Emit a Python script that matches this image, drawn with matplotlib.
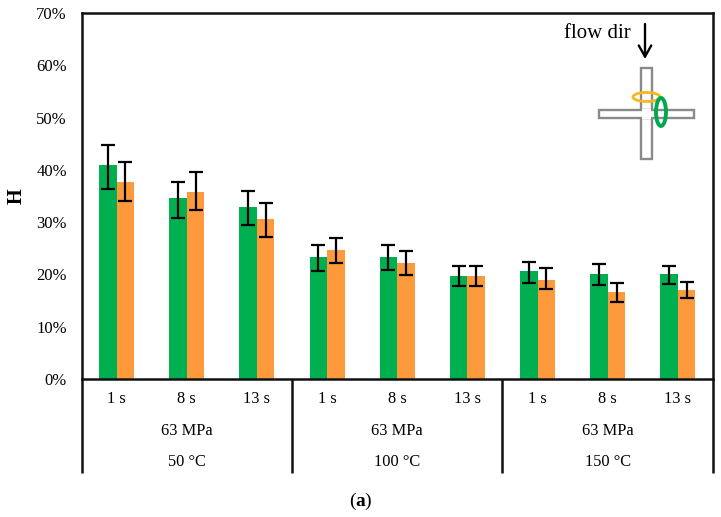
import matplotlib
matplotlib.use("Agg")
import matplotlib.pyplot as plt
from matplotlib.patches import Ellipse, Rectangle

times = ["1 s", "8 s", "13 s"] * 3
pressures = ["63 MPa", "63 MPa", "63 MPa"]
temps = ["50 °C", "100 °C", "150 °C"]
green_vals = [41.0, 34.6, 32.9, 23.3, 23.3, 19.7, 20.6, 20.1, 20.1]
orange_vals = [37.7, 35.8, 30.6, 24.6, 22.2, 19.7, 18.9, 16.6, 17.0]
green_center = [40.5, 34.25, 32.7, 23.2, 23.3, 19.7, 20.4, 20.0, 19.9]
orange_center = [37.75, 35.95, 30.35, 24.5, 22.1, 19.7, 19.2, 16.6, 17.0]
green_err = [4.2, 3.45, 3.3, 2.45, 2.4, 2.0, 2.0, 2.0, 1.8]
orange_err = [3.75, 3.65, 3.25, 2.4, 2.3, 2.0, 2.0, 1.8, 1.6]
yticks = [0, 10, 20, 30, 40, 50, 60, 70]

W, H = 721, 517
plt.rcParams["font.family"] = ["Liberation Serif", "DejaVu Serif"]
fig = plt.figure(figsize=(W / 100, H / 100), dpi=100)
L, R, T, B = 81.5, 713, 13, 379
ax = fig.add_axes([L / W, 1 - B / H, (R - L) / W, (B - T) / H])
xs = list(range(9))
bw = 0.25
GREEN, ORANGE = "#00B050", "#FF9A3C"
ekw = dict(fmt="none", ecolor="black", elinewidth=1.6, capsize=4.8, capthick=1.6, zorder=3)
gx = [x + 0.5 - bw / 2 for x in xs]
ox = [x + 0.5 + bw / 2 for x in xs]
ax.bar(gx, green_vals, bw, color=GREEN)
ax.bar(ox, orange_vals, bw, color=ORANGE)
ax.errorbar(gx, green_center, yerr=green_err, **ekw)
ax.errorbar(ox, orange_center, yerr=orange_err, **ekw)
ax.set_xlim(0, 9)
ax.set_ylim(0, 70)
ax.set_yticks(yticks)
ax.set_yticklabels([f"{v}%" for v in yticks], fontsize=12)
ax.set_xticks([])
ax.tick_params(axis="y", length=0, pad=10.5)
for s in ax.spines.values():
    s.set_linewidth(1.8)
    s.set_color("#111111")
ax.set_ylabel("H", fontsize=14.5, fontweight="bold", labelpad=7)

tr = ax.get_xaxis_transform()
def yfrac(py):
    return (B - py) / (B - T)
for x, t in zip(xs, times):
    ax.text(x + 0.5, yfrac(399), t, transform=tr, ha="center", va="center", fontsize=11.8)
for i in range(3):
    xc = 3 * i + 1.5
    ax.text(xc, yfrac(431), pressures[i], transform=tr, ha="center", va="center", fontsize=11.8)
    ax.text(xc, yfrac(462), temps[i], transform=tr, ha="center", va="center", fontsize=11.8)
for x in [0, 3, 6, 9]:
    ax.plot([x, x], [yfrac(379), yfrac(473)], transform=tr, color="#111111", lw=1.8,
            clip_on=False, solid_capstyle="butt")

fig.text(352.5 / W, 1 - 501 / H, "(", ha="center", va="center", fontsize=14)
fig.text(360.5 / W, 1 - 501 / H, "a", ha="center", va="center", fontsize=14, fontweight="bold")
fig.text(368 / W, 1 - 501 / H, ")", ha="center", va="center", fontsize=14)

# inset schematic in pixel coordinates
ov = fig.add_axes([0, 0, 1, 1], facecolor="none")
ov.set_xlim(0, W)
ov.set_ylim(H, 0)
ov.axis("off")
GREY = "#8A8A8A"
ov.add_patch(Rectangle((641, 68), 11, 91, fc="white", ec=GREY, lw=1.7))
ov.add_patch(Rectangle((599, 110), 95, 8, fc="white", ec=GREY, lw=1.7))
ov.add_patch(Rectangle((642, 109), 9, 10, fc="white", ec="none"))
ov.add_patch(Ellipse((646.5, 97), 27, 9, fc="none", ec="#F5B81E", lw=2.0))
ov.add_patch(Ellipse((661, 112), 10, 28, fc="none", ec="#00A84F", lw=2.8))
ov.annotate("", xy=(645, 59), xytext=(645, 24),
            arrowprops=dict(arrowstyle="->,head_width=0.45,head_length=0.8", color="black",
                            lw=1.7, shrinkA=0, shrinkB=0))
ov.text(597, 34, "flow dir", ha="center", va="center", fontsize=15)
fig.savefig("out.png", dpi=100)
